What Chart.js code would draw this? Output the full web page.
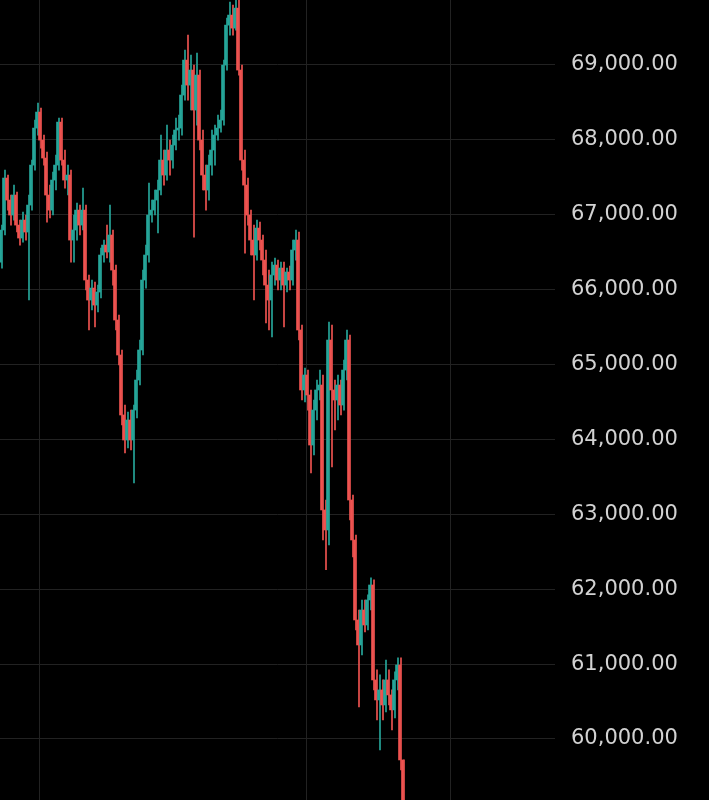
<!DOCTYPE html>
<html>
<head>
<meta charset="utf-8">
<script src="https://cdn.jsdelivr.net/npm/chart.js@4.4.1/dist/chart.umd.min.js"></script>
<style>
  html, body { margin: 0; padding: 0; background: #000; overflow: hidden; }
  #wrap { position: relative; width: 709px; height: 800px; overflow: hidden; }
  /* canvas starts a little above the window so the 70,000 line is cut off like the screenshot */
  #chart { position: absolute; left: 0; top: -30px; }
</style>
</head>
<body>
<div id="wrap"><canvas id="chart" width="709" height="830"></canvas></div>
<script>
// candle prices (one candle every few pixels)
const open = [
  66368, 66796, 67490, 67196, 66996, 67263, 66862, 66689, 66929, 66769,
  67129, 67663, 68157, 68371, 67997, 67757, 67263, 67062, 67463, 67663,
  68237, 67730, 67463, 67530, 66662, 66796, 67062, 66862, 67062, 66128,
  65861, 66021, 65794, 65968, 66462, 66595, 66502, 66729, 66261, 65594,
  65127, 64326, 63992, 64259, 63992, 64392, 64793, 65194, 66128, 66462,
  66996, 67062, 67196, 67330, 67730, 67530, 67864, 67730, 67930, 68131,
  68157, 68598, 69065, 68731, 68932, 68398, 68865, 67997, 67530, 67330,
  67663, 67864, 68064, 68157, 68264, 68998, 69532, 69666, 69492, 69759,
  68932, 67730, 67396, 66996, 66662, 66462, 66822, 66662, 66395, 66061,
  65861, 66195, 66328, 66128, 66288, 66061, 66235, 66128, 66529, 66662,
  65461, 64660, 64860, 64593, 63925, 64392, 64660, 64726, 63058, 62791,
  65327, 64660, 64526, 64726, 64459, 64926, 65327, 63191, 62657, 61589,
  61255, 61722, 61522, 61856, 62056, 60788, 60521, 60655, 60454, 60788,
  60588, 60388, 60788, 60988, 59720
];
const high = [
  66862, 67596, 67530, 67263, 67396, 67303, 66929, 67036, 66996, 67263,
  67730, 68264, 68491, 68424, 68064, 67837, 67396, 67570, 67797, 68291,
  68291, 67864, 67663, 67596, 66996, 67156, 67129, 67356, 67129, 66195,
  66128, 66101, 66061, 66555, 66662, 66862, 67129, 66796, 66328, 65661,
  65194, 64459, 64366, 64392, 64459, 64926, 65327, 66261, 66595, 67423,
  67196, 67330, 67463, 68064, 67864, 68197, 67997, 68064, 68291, 68331,
  68731, 69199, 69399, 69132, 68998, 69158, 68932, 68131, 67663, 67797,
  68131, 68197, 68331, 68398, 69065, 69626, 69839, 69799, 70000, 69866,
  68998, 67864, 67490, 67062, 66862, 66929, 66902, 66729, 66529, 66261,
  66368, 66422, 66395, 66368, 66368, 66288, 66315, 66662, 66796, 66769,
  65527, 64953, 64926, 64660, 64526, 64793, 64926, 64860, 63191, 65567,
  65527, 64793, 64860, 64793, 65060, 65461, 65394, 63258, 62724, 61722,
  61856, 61856, 61923, 62153, 62126, 60922, 60855, 60788, 61055, 60922,
  60655, 60895, 61082, 61082, 59720
];
const low = [
  66288, 66729, 67062, 66862, 66929, 66769, 66595, 66635, 66662, 65861,
  67062, 67596, 68064, 67890, 67663, 66902, 66956, 66996, 67330, 67596,
  67663, 67356, 67263, 66368, 66368, 66662, 66729, 66796, 65995, 65461,
  65728, 65501, 65701, 65888, 66368, 66422, 66368, 66061, 65461, 64993,
  64192, 63819, 63885, 63859, 63418, 64286, 64726, 65127, 66021, 66368,
  66902, 66996, 66756, 67263, 67396, 67463, 67530, 67623, 67864, 67997,
  68064, 68531, 68531, 68398, 66702, 68197, 67864, 67330, 67062, 67196,
  67530, 67663, 67997, 68104, 68197, 68932, 69399, 69399, 69466, 68865,
  67596, 66488, 66862, 66462, 65861, 66395, 66529, 66195, 65554, 65461,
  65367, 66061, 65995, 65995, 65501, 65968, 65995, 66061, 66395, 65327,
  64526, 64499, 64392, 63552, 63792, 64259, 64526, 62657, 62261, 62590,
  63632, 64126, 64259, 64326, 64392, 64793, 62924, 62430, 61456, 60427,
  61122, 61429, 61456, 61722, 60655, 60254, 59854, 60254, 60361, 60454,
  60121, 60281, 60655, 59587, 58519
];
const close = [
  66796, 67490, 67196, 66996, 67263, 66862, 66689, 66929, 66769, 67129,
  67663, 68157, 68371, 67997, 67757, 67263, 67062, 67463, 67663, 68237,
  67730, 67463, 67530, 66662, 66796, 67062, 66862, 67062, 66128, 65861,
  66021, 65794, 65968, 66462, 66595, 66502, 66729, 66261, 65594, 65127,
  64326, 63992, 64259, 63992, 64392, 64793, 65194, 66128, 66462, 66996,
  67062, 67196, 67330, 67730, 67530, 67864, 67730, 67930, 68131, 68157,
  68598, 69065, 68731, 68932, 68398, 68865, 67997, 67530, 67330, 67663,
  67864, 68064, 68157, 68264, 68998, 69532, 69666, 69492, 69759, 68932,
  67730, 67396, 66996, 66662, 66462, 66822, 66662, 66395, 66061, 65861,
  66195, 66328, 66128, 66288, 66061, 66235, 66128, 66529, 66662, 65461,
  64660, 64860, 64593, 63925, 64392, 64660, 64726, 63058, 62791, 65327,
  64660, 64526, 64726, 64459, 64926, 65327, 63191, 62657, 61589, 61255,
  61722, 61522, 61856, 62056, 60788, 60521, 60655, 60454, 60788, 60588,
  60388, 60788, 60988, 59720, 58786
];

// price levels shown on the right axis
const priceTicks = [60000, 61000, 62000, 63000, 64000, 65000, 66000, 67000, 68000, 69000, 70000];

// time slots across the plot; the right part is empty (future)
const slotCount = 185;
const slots = Array.from({ length: slotCount }, (_, i) => i);
// slot boundaries where the session grid lines sit
const sessionLines = [13, 102, 150];

const UP = '#26a69a';
const DOWN = '#ef5350';
const candleColor = open.map((o, i) => (close[i] >= o ? UP : DOWN));

const wicks = low.map((l, i) => [l, high[i]]);
const bodies = open.map((o, i) => [o, close[i]]);

const ctx = document.getElementById('chart').getContext('2d');
new Chart(ctx, {
  type: 'bar',
  data: {
    labels: slots,
    datasets: [
      {
        data: bodies,
        backgroundColor: candleColor,
        barThickness: 2,
        minBarLength: 1,
        order: 1
      },
      {
        data: wicks,
        backgroundColor: candleColor,
        barThickness: 1,
        order: 2
      }
    ]
  },
  options: {
    responsive: false,
    animation: false,
    devicePixelRatio: 1,
    layout: { padding: 0 },
    plugins: {
      legend: { display: false },
      tooltip: { enabled: false }
    },
    scales: {
      x: {
        stacked: false,
        grid: {
          offset: true,
          drawTicks: false,
          color: (c) => (sessionLines.includes(c.index) ? '#222222' : 'rgba(0,0,0,0)'),
          lineWidth: 1
        },
        border: { display: false },
        ticks: { display: false },
        afterFit: (scale) => {
          scale.height = 0;
          scale.paddingLeft = 0;
          scale.paddingRight = 0;
        }
      },
      y: {
        position: 'right',
        min: 59185,
        max: 70268,
        grid: { color: '#222222', drawTicks: false },
        border: { display: false },
        afterBuildTicks: (scale) => { scale.ticks = priceTicks.map((v) => ({ value: v })); },
        ticks: {
          padding: 16,
          color: '#d2d2d2',
          font: { family: 'DejaVu Sans', size: 21 },
          callback: (v) => v.toLocaleString('en-US', { minimumFractionDigits: 2, maximumFractionDigits: 2 })
        },
        afterFit: (scale) => {
          scale.width = 154;
          // labels may overhang the plot edges, like the screenshot
          scale.paddingTop = 0;
          scale.paddingBottom = 0;
        }
      }
    }
  }
});
</script>
</body>
</html>
